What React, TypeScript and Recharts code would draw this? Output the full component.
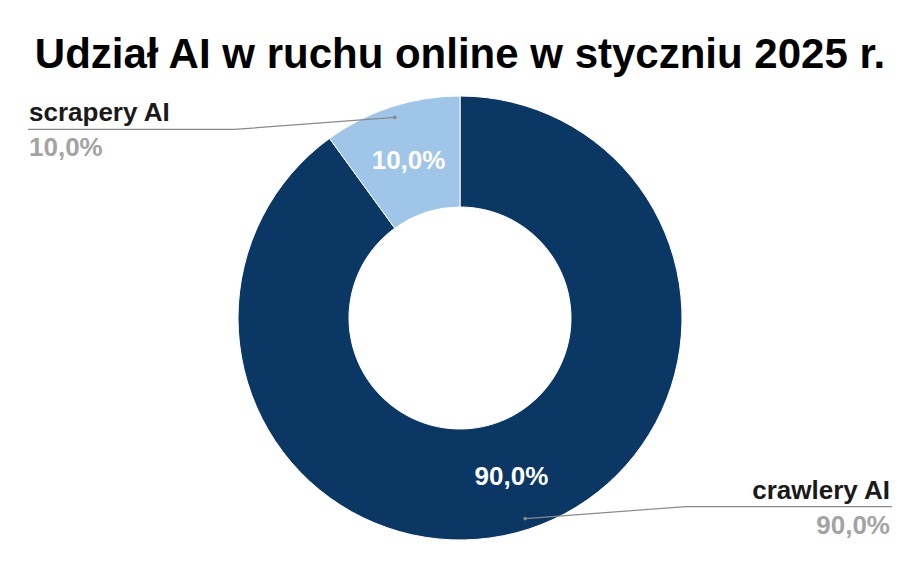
import { PieChart, Pie, Cell } from 'recharts';

const TITLE = 'Udział AI w ruchu online w styczniu 2025 r.';
const CATEGORIES = ['crawlery AI', 'scrapery AI'];
const SHARES = [90, 10];
const COLORS = ['#0A3763', '#9FC5E8'];

const data = CATEGORIES.map((name, i) => ({ name, value: SHARES[i] }));

const RAD = Math.PI / 180;
const FONT = '"Liberation Sans", Arial, sans-serif';

const fmt = (p: number) => (p * 100).toFixed(1).replace('.', ',') + '%';

function renderLabel(props: any) {
  const { cx, cy, midAngle, innerRadius, outerRadius, percent, name } = props;
  const cos = Math.cos(-midAngle * RAD);
  const sin = Math.sin(-midAngle * RAD);

  // inside value
  const rIn = (innerRadius + outerRadius) / 2;
  const ix = cx + rIn * cos;
  const iy = cy + rIn * sin;

  // leader line
  const side = cos >= 0 ? 1 : -1;
  const dx = cx + outerRadius * 0.95 * cos;
  const dy = cy + outerRadius * 0.95 * sin;
  const ex = cx + side * 226;
  const ey = dy + (side > 0 ? -12 : 12);
  const endX = side > 0 ? 892 : 28;
  const anchor = side > 0 ? 'end' : 'start';

  return (
    <g>
      <text
        x={ix}
        y={iy}
        textAnchor="middle"
        dominantBaseline="central"
        fill="#FFFFFF"
        fontFamily={FONT}
        fontWeight="bold"
        fontSize={26}
      >
        {fmt(percent)}
      </text>
      <polyline
        points={`${dx},${dy} ${ex},${ey} ${endX},${ey}`}
        fill="none"
        stroke="#8A8A8A"
        strokeWidth={1.2}
      />
      <circle cx={dx} cy={dy} r={1.8} fill="#8A8A8A" />
      <text
        x={side > 0 ? 890 : 29}
        y={ey - 8}
        textAnchor={anchor}
        fill="#1A1A1A"
        fontFamily={FONT}
        fontWeight="bold"
        fontSize={26}
      >
        {name}
      </text>
      <text
        x={side > 0 ? 890 : 29}
        y={ey + 27}
        textAnchor={anchor}
        fill="#A3A3A3"
        fontFamily={FONT}
        fontWeight="bold"
        fontSize={26}
      >
        {fmt(percent)}
      </text>
    </g>
  );
}

export default function App() {
  return (
    <div style={{ width: 920, height: 569, background: '#FFFFFF' }}>
      <style>{'body{margin:0}'}</style>
      <PieChart width={920} height={569} margin={{ top: 0, right: 0, bottom: 0, left: 0 }}>
        <text
          x={460}
          y={68}
          textAnchor="middle"
          fill="#000000"
          fontFamily={FONT}
          fontWeight="bold"
          fontSize={42}
        >
          {TITLE}
        </text>
        <Pie
          data={data}
          dataKey="value"
          nameKey="name"
          cx={460}
          cy={318}
          innerRadius={111}
          outerRadius={222}
          startAngle={90}
          endAngle={-270}
          stroke="#FFFFFF"
          strokeWidth={1}
          label={renderLabel}
          labelLine={false}
          isAnimationActive={false}
        >
          {data.map((d, i) => (
            <Cell key={d.name} fill={COLORS[i]} />
          ))}
        </Pie>
      </PieChart>
    </div>
  );
}
